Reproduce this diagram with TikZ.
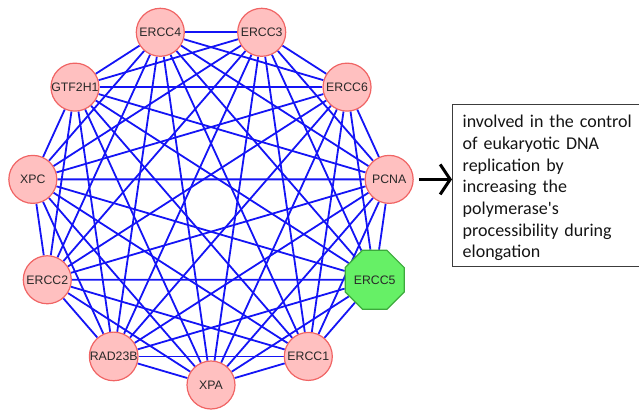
\documentclass[tikz,border=0pt]{standalone}
\usepackage{fontspec}
\setmainfont{Liberation Sans}
\newfontfamily\notefont{Carlito}
\usepackage{xcolor}
\usetikzlibrary{arrows.meta,backgrounds,positioning,shapes.geometric,calc}

\definecolor{genefill}{RGB}{255,192,192}
\definecolor{genedraw}{RGB}{240,100,100}
\definecolor{hubfill}{RGB}{102,240,102}
\definecolor{hubdraw}{RGB}{60,170,60}
\definecolor{linkblue}{RGB}{20,20,245}
\definecolor{labelgray}{RGB}{40,40,40}
\definecolor{boxgray}{RGB}{60,60,60}

\begin{document}
\begin{tikzpicture}[x=1pt,y=1pt,
  gene/.style={circle,draw=genedraw,fill=genefill,line width=1.2pt,minimum size=48pt,inner sep=0pt,text=labelgray,font=\fontsize{12.3}{14}\selectfont},
  hub/.style={gene,regular polygon,regular polygon sides=8,draw=hubdraw,fill=hubfill,minimum size=54pt},
  link/.style={linkblue,line width=1.8pt},
  note/.style={draw=boxgray,line width=1.4pt,align=left,text width=173pt,inner xsep=10pt,inner ysep=0pt,text height=23pt,text depth=139pt,font=\notefont\fontsize{18}{21.7}\selectfont,text=black!92}]
\useasboundingbox (0,0) rectangle (639,410);
% Genes on the ring
\foreach \gname/\gstyle [count=\i from 0] in {XPA/gene,ERCC1/gene,ERCC5/hub,PCNA/gene,ERCC6/gene,ERCC3/gene,ERCC4/gene,GTF2H1/gene,XPC/gene,ERCC2/gene,RAD23B/gene}
  \node[\gstyle] (\gname) at ($(211,205)+(270+\i*360/11:180)$) {\gname};
% Interactions (every pair)
\begin{scope}[on background layer]
\foreach \a [count=\i] in {XPA,ERCC1,ERCC5,PCNA,ERCC6,ERCC3,ERCC4,GTF2H1,XPC,ERCC2,RAD23B}
  \foreach \b [count=\j] in {XPA,ERCC1,ERCC5,PCNA,ERCC6,ERCC3,ERCC4,GTF2H1,XPC,ERCC2,RAD23B}
    {\ifnum\j>\i \draw[link] (\a) -- (\b);\fi}
\end{scope}
% Annotation for PCNA
\node[note,anchor=north west] (note) at (452,306) {involved in the control\\of eukaryotic DNA\\replication by\\increasing the\\polymerase's\\processibility during\\elongation};
\draw[line width=3pt,-{Straight Barb[length=10pt,width=30pt]}] ([xshift=5pt]PCNA.east) -- (PCNA.east -| note.west);
\end{tikzpicture}
\end{document}
